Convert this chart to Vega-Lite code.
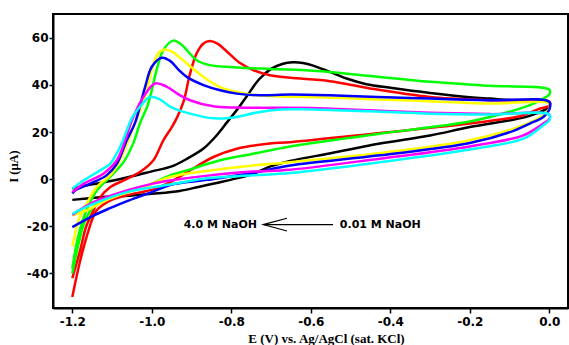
{
  "$schema": "https://vega.github.io/schema/vega-lite/v6.json",
  "width": 515,
  "height": 294,
  "autosize": {"type": "none"},
  "padding": {"left": 53, "top": 14, "right": 1, "bottom": 37},
  "background": "white",
  "config": {
    "view": {"stroke": "black", "strokeWidth": 2},
    "axis": {
      "grid": false,
      "domainColor": "black",
      "domainWidth": 2,
      "tickColor": "black",
      "tickWidth": 1.5,
      "labelColor": "black",
      "labelFont": "DejaVu Sans",
      "labelFontWeight": "bold",
      "labelFontSize": 12,
      "titleColor": "black",
      "titleFont": "Liberation Serif",
      "titleFontWeight": "bold"
    }
  },
  "encoding": {
    "x": {
      "field": "E",
      "type": "quantitative",
      "scale": {"domain": [-1.2486, 0.047], "nice": false, "zero": false},
      "axis": {
        "values": [-1.2, -1.0, -0.8, -0.6, -0.4, -0.2, 0],
        "labelExpr": "datum.value < -0.0001 ? '-' + format(-datum.value, '.1f') : format(abs(datum.value), '.1f')",
        "tickSize": 5,
        "labelPadding": 3,
        "title": "E (V) vs. Ag/AgCl (sat. KCl)",
        "titleFontSize": 13,
        "titleX": 273,
        "titleY": 30,
        "titleAlign": "center",
        "titleBaseline": "middle"
      }
    },
    "y": {
      "field": "I",
      "type": "quantitative",
      "scale": {"domain": [-54.7, 70.1], "nice": false, "zero": false},
      "axis": {
        "values": [-40, -20, 0, 20, 40, 60],
        "labelExpr": "datum.value < 0 ? '-' + format(-datum.value, 'd') : format(datum.value, 'd')",
        "tickSize": 4,
        "labelPadding": 1,
        "title": "I (µA)",
        "titleFontSize": 12.5,
        "titleX": -40,
        "titleY": 152,
        "titleAlign": "center",
        "titleBaseline": "middle"
      }
    }
  },
  "layer": [
    {
      "data": {
        "values": [
          {"s":"k","o":1,"E":-1.2,"I":-4},{"s":"k","o":2,"E":-1.15,"I":-2.2},{"s":"k","o":3,"E":-1.1,"I":-0.7},{"s":"k","o":4,"E":-1.05,"I":1.2},{"s":"k","o":5,"E":-1.0,"I":3.3},{"s":"k","o":6,"E":-0.95,"I":5.4},{"s":"k","o":7,"E":-0.91,"I":8.8},{"s":"k","o":8,"E":-0.87,"I":13},{"s":"k","o":9,"E":-0.84,"I":18},{"s":"k","o":10,"E":-0.81,"I":24.3},{"s":"k","o":11,"E":-0.786,"I":29.4},{"s":"k","o":12,"E":-0.761,"I":35.2},{"s":"k","o":13,"E":-0.73,"I":42.4},{"s":"k","o":14,"E":-0.7,"I":46.8},{"s":"k","o":15,"E":-0.672,"I":48.9},{"s":"k","o":16,"E":-0.645,"I":49.6},{"s":"k","o":17,"E":-0.62,"I":49.3},{"s":"k","o":18,"E":-0.594,"I":48.2},{"s":"k","o":19,"E":-0.552,"I":45.5},{"s":"k","o":20,"E":-0.51,"I":42.7},{"s":"k","o":21,"E":-0.46,"I":40.3},{"s":"k","o":22,"E":-0.4,"I":38.8},{"s":"k","o":23,"E":-0.3,"I":36.6},{"s":"k","o":24,"E":-0.2,"I":34.8},{"s":"k","o":25,"E":-0.149,"I":34.2},{"s":"k","o":26,"E":-0.09,"I":33.5},{"s":"k","o":27,"E":0,"I":32.8},
          {"s":"k","o":28,"E":0,"I":31},{"s":"k","o":29,"E":-0.01,"I":29.5},{"s":"k","o":30,"E":-0.03,"I":28},{"s":"k","o":31,"E":-0.065,"I":26.1},{"s":"k","o":32,"E":-0.2,"I":22.1},{"s":"k","o":33,"E":-0.3,"I":18.5},{"s":"k","o":34,"E":-0.426,"I":15.1},{"s":"k","o":35,"E":-0.55,"I":11},{"s":"k","o":36,"E":-0.652,"I":7.7},{"s":"k","o":37,"E":-0.7,"I":5.5},{"s":"k","o":38,"E":-0.745,"I":2.3},{"s":"k","o":39,"E":-0.8,"I":-0.2},{"s":"k","o":40,"E":-0.828,"I":-1.3},{"s":"k","o":41,"E":-0.88,"I":-3.2},{"s":"k","o":42,"E":-0.93,"I":-5},{"s":"k","o":43,"E":-1.0,"I":-6.2},{"s":"k","o":44,"E":-1.05,"I":-6.9},{"s":"k","o":45,"E":-1.105,"I":-7.4},{"s":"k","o":46,"E":-1.15,"I":-8},{"s":"k","o":47,"E":-1.2,"I":-8.8},

          {"s":"r","o":1,"E":-1.2,"I":-42},{"s":"r","o":2,"E":-1.18,"I":-30},{"s":"r","o":3,"E":-1.165,"I":-20},{"s":"r","o":4,"E":-1.147,"I":-13.3},{"s":"r","o":5,"E":-1.13,"I":-7.7},{"s":"r","o":6,"E":-1.105,"I":-3.4},{"s":"r","o":7,"E":-1.072,"I":-0.6},{"s":"r","o":8,"E":-1.03,"I":3},{"s":"r","o":9,"E":-0.996,"I":8},{"s":"r","o":10,"E":-0.971,"I":16.5},{"s":"r","o":11,"E":-0.95,"I":22},{"s":"r","o":12,"E":-0.937,"I":26},{"s":"r","o":13,"E":-0.92,"I":33},{"s":"r","o":14,"E":-0.905,"I":44},{"s":"r","o":15,"E":-0.887,"I":53.5},{"s":"r","o":16,"E":-0.87,"I":57.6},{"s":"r","o":17,"E":-0.854,"I":58.6},{"s":"r","o":18,"E":-0.835,"I":57.5},{"s":"r","o":19,"E":-0.81,"I":54},{"s":"r","o":20,"E":-0.78,"I":49.5},{"s":"r","o":21,"E":-0.745,"I":46.3},{"s":"r","o":22,"E":-0.703,"I":44.1},{"s":"r","o":23,"E":-0.652,"I":43},{"s":"r","o":24,"E":-0.552,"I":41.6},{"s":"r","o":25,"E":-0.451,"I":38.5},{"s":"r","o":26,"E":-0.3,"I":34.9},{"s":"r","o":27,"E":-0.149,"I":33.5},{"s":"r","o":28,"E":0,"I":32.8},
          {"s":"r","o":29,"E":0,"I":31.2},{"s":"r","o":30,"E":-0.023,"I":30},{"s":"r","o":31,"E":-0.065,"I":27.1},{"s":"r","o":32,"E":-0.09,"I":26.2},{"s":"r","o":33,"E":-0.2,"I":23.6},{"s":"r","o":34,"E":-0.426,"I":19.6},{"s":"r","o":35,"E":-0.652,"I":15.7},{"s":"r","o":36,"E":-0.703,"I":15.1},{"s":"r","o":37,"E":-0.786,"I":12.9},{"s":"r","o":38,"E":-0.845,"I":9.4},{"s":"r","o":39,"E":-0.904,"I":3.7},{"s":"r","o":40,"E":-0.954,"I":-1.3},{"s":"r","o":41,"E":-0.99,"I":-4},{"s":"r","o":42,"E":-1.063,"I":-6.9},{"s":"r","o":43,"E":-1.105,"I":-9.1},{"s":"r","o":44,"E":-1.139,"I":-13.3},{"s":"r","o":45,"E":-1.151,"I":-17.6},{"s":"r","o":46,"E":-1.17,"I":-28},{"s":"r","o":47,"E":-1.185,"I":-38},{"s":"r","o":48,"E":-1.2,"I":-50},

          {"s":"g","o":1,"E":-1.2,"I":-38},{"s":"g","o":2,"E":-1.19,"I":-28},{"s":"g","o":3,"E":-1.18,"I":-21},{"s":"g","o":4,"E":-1.164,"I":-13},{"s":"g","o":5,"E":-1.139,"I":-5},{"s":"g","o":6,"E":-1.105,"I":1},{"s":"g","o":7,"E":-1.072,"I":7},{"s":"g","o":8,"E":-1.046,"I":15.5},{"s":"g","o":9,"E":-1.03,"I":23.6},{"s":"g","o":10,"E":-1.009,"I":32.1},{"s":"g","o":11,"E":-0.988,"I":46.3},{"s":"g","o":12,"E":-0.971,"I":54.8},{"s":"g","o":13,"E":-0.946,"I":58.8},{"s":"g","o":14,"E":-0.929,"I":57.6},{"s":"g","o":15,"E":-0.912,"I":54.8},{"s":"g","o":16,"E":-0.887,"I":50.5},{"s":"g","o":17,"E":-0.854,"I":48.4},{"s":"g","o":18,"E":-0.786,"I":47.4},{"s":"g","o":19,"E":-0.703,"I":46.8},{"s":"g","o":20,"E":-0.652,"I":46.5},{"s":"g","o":21,"E":-0.552,"I":45.5},{"s":"g","o":22,"E":-0.451,"I":43.8},{"s":"g","o":23,"E":-0.3,"I":41.3},{"s":"g","o":24,"E":-0.149,"I":39.6},{"s":"g","o":25,"E":0,"I":38},
          {"s":"g","o":26,"E":0,"I":36},{"s":"g","o":27,"E":-0.015,"I":34.2},{"s":"g","o":28,"E":-0.049,"I":31.4},{"s":"g","o":29,"E":-0.132,"I":27.1},{"s":"g","o":30,"E":-0.2,"I":24.5},{"s":"g","o":31,"E":-0.3,"I":22},{"s":"g","o":32,"E":-0.426,"I":19.3},{"s":"g","o":33,"E":-0.652,"I":13.9},{"s":"g","o":34,"E":-0.745,"I":10.8},{"s":"g","o":35,"E":-0.828,"I":8},{"s":"g","o":36,"E":-0.912,"I":3.7},{"s":"g","o":37,"E":-0.954,"I":1.6},{"s":"g","o":38,"E":-1.021,"I":-3.4},{"s":"g","o":39,"E":-1.105,"I":-7.7},{"s":"g","o":40,"E":-1.147,"I":-11.9},{"s":"g","o":41,"E":-1.168,"I":-17.6},{"s":"g","o":42,"E":-1.185,"I":-28},{"s":"g","o":43,"E":-1.2,"I":-40},

          {"s":"y","o":1,"E":-1.2,"I":-28.5},{"s":"y","o":2,"E":-1.193,"I":-23.2},{"s":"y","o":3,"E":-1.185,"I":-17.6},{"s":"y","o":4,"E":-1.164,"I":-10.5},{"s":"y","o":5,"E":-1.139,"I":-3.4},{"s":"y","o":6,"E":-1.105,"I":1.6},{"s":"y","o":7,"E":-1.08,"I":8},{"s":"y","o":8,"E":-1.059,"I":16.5},{"s":"y","o":9,"E":-1.04,"I":24.5},{"s":"y","o":10,"E":-1.017,"I":34.9},{"s":"y","o":11,"E":-1.0,"I":46.3},{"s":"y","o":12,"E":-0.984,"I":53.4},{"s":"y","o":13,"E":-0.967,"I":55},{"s":"y","o":14,"E":-0.948,"I":54},{"s":"y","o":15,"E":-0.929,"I":51.5},{"s":"y","o":16,"E":-0.912,"I":49.1},{"s":"y","o":17,"E":-0.87,"I":43.4},{"s":"y","o":18,"E":-0.828,"I":39.1},{"s":"y","o":19,"E":-0.786,"I":37},{"s":"y","o":20,"E":-0.736,"I":35.6},{"s":"y","o":21,"E":-0.652,"I":35},{"s":"y","o":22,"E":-0.552,"I":34.6},{"s":"y","o":23,"E":-0.451,"I":33.9},{"s":"y","o":24,"E":-0.3,"I":33.1},{"s":"y","o":25,"E":-0.149,"I":32.1},{"s":"y","o":26,"E":0,"I":32.1},
          {"s":"y","o":27,"E":0,"I":30},{"s":"y","o":28,"E":-0.015,"I":27.1},{"s":"y","o":29,"E":-0.065,"I":22.9},{"s":"y","o":30,"E":-0.2,"I":16.5},{"s":"y","o":31,"E":-0.426,"I":11.1},{"s":"y","o":32,"E":-0.652,"I":7.2},{"s":"y","o":33,"E":-0.745,"I":5.8},{"s":"y","o":34,"E":-0.854,"I":3.7},{"s":"y","o":35,"E":-0.954,"I":0.9},{"s":"y","o":36,"E":-1.021,"I":-3.4},{"s":"y","o":37,"E":-1.105,"I":-8.3},{"s":"y","o":38,"E":-1.164,"I":-13.3},{"s":"y","o":39,"E":-1.2,"I":-15.4},

          {"s":"b","o":1,"E":-1.2,"I":-6},{"s":"b","o":2,"E":-1.19,"I":-4.5},{"s":"b","o":3,"E":-1.17,"I":-3},{"s":"b","o":4,"E":-1.147,"I":-1.3},{"s":"b","o":5,"E":-1.114,"I":1.6},{"s":"b","o":6,"E":-1.088,"I":6.5},{"s":"b","o":7,"E":-1.063,"I":16.5},{"s":"b","o":8,"E":-1.042,"I":24},{"s":"b","o":9,"E":-1.017,"I":39.1},{"s":"b","o":10,"E":-1.0,"I":47.7},{"s":"b","o":11,"E":-0.975,"I":51.5},{"s":"b","o":12,"E":-0.954,"I":50.2},{"s":"b","o":13,"E":-0.933,"I":46.5},{"s":"b","o":14,"E":-0.912,"I":43.4},{"s":"b","o":15,"E":-0.87,"I":39.9},{"s":"b","o":16,"E":-0.828,"I":37.7},{"s":"b","o":17,"E":-0.786,"I":36.3},{"s":"b","o":18,"E":-0.728,"I":35.6},{"s":"b","o":19,"E":-0.652,"I":35.9},{"s":"b","o":20,"E":-0.552,"I":35.6},{"s":"b","o":21,"E":-0.451,"I":35},{"s":"b","o":22,"E":-0.3,"I":34.2},{"s":"b","o":23,"E":-0.149,"I":33.5},{"s":"b","o":24,"E":0,"I":32.8},
          {"s":"b","o":25,"E":0,"I":29.5},{"s":"b","o":26,"E":-0.015,"I":26.4},{"s":"b","o":27,"E":-0.049,"I":23.6},{"s":"b","o":28,"E":-0.09,"I":20.5},{"s":"b","o":29,"E":-0.2,"I":15.3},{"s":"b","o":30,"E":-0.426,"I":10.1},{"s":"b","o":31,"E":-0.652,"I":5.8},{"s":"b","o":32,"E":-0.745,"I":2.7},{"s":"b","o":33,"E":-0.86,"I":-0.3},{"s":"b","o":34,"E":-0.954,"I":-2.5},{"s":"b","o":35,"E":-1.0,"I":-5.5},{"s":"b","o":36,"E":-1.059,"I":-9.1},{"s":"b","o":37,"E":-1.105,"I":-12.3},{"s":"b","o":38,"E":-1.147,"I":-15.5},{"s":"b","o":39,"E":-1.2,"I":-20.4},

          {"s":"m","o":1,"E":-1.2,"I":-5.5},{"s":"m","o":2,"E":-1.172,"I":-2},{"s":"m","o":3,"E":-1.122,"I":2.3},{"s":"m","o":4,"E":-1.088,"I":8},{"s":"m","o":5,"E":-1.067,"I":16.5},{"s":"m","o":6,"E":-1.05,"I":25},{"s":"m","o":7,"E":-1.021,"I":34.9},{"s":"m","o":8,"E":-0.992,"I":40.6},{"s":"m","o":9,"E":-0.963,"I":39.3},{"s":"m","o":10,"E":-0.933,"I":36},{"s":"m","o":11,"E":-0.904,"I":33.5},{"s":"m","o":12,"E":-0.845,"I":30.9},{"s":"m","o":13,"E":-0.786,"I":30.4},{"s":"m","o":14,"E":-0.7,"I":30.3},{"s":"m","o":15,"E":-0.6,"I":30.2},{"s":"m","o":16,"E":-0.45,"I":29.2},{"s":"m","o":17,"E":-0.3,"I":28.2},{"s":"m","o":18,"E":-0.15,"I":27.6},{"s":"m","o":19,"E":0,"I":27.4},
          {"s":"m","o":20,"E":0,"I":25.5},{"s":"m","o":21,"E":-0.015,"I":23.6},{"s":"m","o":22,"E":-0.065,"I":18.6},{"s":"m","o":23,"E":-0.2,"I":13.9},{"s":"m","o":24,"E":-0.426,"I":8.7},{"s":"m","o":25,"E":-0.652,"I":4},{"s":"m","o":26,"E":-0.745,"I":3.2},{"s":"m","o":27,"E":-0.854,"I":1.6},{"s":"m","o":28,"E":-0.954,"I":-0.6},{"s":"m","o":29,"E":-1.0,"I":-2},{"s":"m","o":30,"E":-1.063,"I":-4.8},{"s":"m","o":31,"E":-1.147,"I":-9.8},{"s":"m","o":32,"E":-1.2,"I":-15.2},

          {"s":"c","o":1,"E":-1.2,"I":-4},{"s":"c","o":2,"E":-1.172,"I":-0.6},{"s":"c","o":3,"E":-1.13,"I":3.7},{"s":"c","o":4,"E":-1.105,"I":6.5},{"s":"c","o":5,"E":-1.08,"I":13.6},{"s":"c","o":6,"E":-1.063,"I":20.7},{"s":"c","o":7,"E":-1.05,"I":26},{"s":"c","o":8,"E":-1.03,"I":30.6},{"s":"c","o":9,"E":-1.005,"I":34.9},{"s":"c","o":10,"E":-0.979,"I":33.8},{"s":"c","o":11,"E":-0.954,"I":30.8},{"s":"c","o":12,"E":-0.904,"I":27.8},{"s":"c","o":13,"E":-0.845,"I":25.8},{"s":"c","o":14,"E":-0.786,"I":26.4},{"s":"c","o":15,"E":-0.736,"I":28.3},{"s":"c","o":16,"E":-0.677,"I":29.6},{"s":"c","o":17,"E":-0.6,"I":29.6},{"s":"c","o":18,"E":-0.45,"I":28.8},{"s":"c","o":19,"E":-0.3,"I":27.8},{"s":"c","o":20,"E":-0.15,"I":27.4},{"s":"c","o":21,"E":0,"I":27.4},
          {"s":"c","o":22,"E":0,"I":25},{"s":"c","o":23,"E":-0.015,"I":22.9},{"s":"c","o":24,"E":-0.065,"I":17.2},{"s":"c","o":25,"E":-0.2,"I":12.6},{"s":"c","o":26,"E":-0.426,"I":7.2},{"s":"c","o":27,"E":-0.652,"I":2.6},{"s":"c","o":28,"E":-0.745,"I":1.6},{"s":"c","o":29,"E":-0.87,"I":0.2},{"s":"c","o":30,"E":-0.954,"I":-2.3},{"s":"c","o":31,"E":-1.0,"I":-3.5},{"s":"c","o":32,"E":-1.063,"I":-5.5},{"s":"c","o":33,"E":-1.147,"I":-10.5},{"s":"c","o":34,"E":-1.2,"I":-14.7}
        ]
      },
      "mark": {"type": "line", "interpolate": "catmull-rom", "strokeWidth": 2.5},
      "encoding": {
        "color": {
          "field": "s",
          "type": "nominal",
          "scale": {
            "domain": ["k", "r", "g", "y", "b", "m", "c"],
            "range": ["#000000", "#ff0000", "#00ff00", "#ffff00", "#0000ff", "#ff00ff", "#00ffff"]
          },
          "legend": null
        },
        "order": {"field": "o", "type": "quantitative"}
      }
    },
    {
      "data": {
        "values": [
          {"g": "shaft", "k": 1, "E": -0.544, "I": -19.3},
          {"g": "shaft", "k": 2, "E": -0.7197, "I": -19.3},
          {"g": "head", "k": 1, "E": -0.66, "I": -16.6},
          {"g": "head", "k": 2, "E": -0.7197, "I": -19.3},
          {"g": "head", "k": 3, "E": -0.66, "I": -22.0}
        ]
      },
      "mark": {"type": "line", "color": "black", "strokeWidth": 1.2},
      "encoding": {
        "detail": {"field": "g", "type": "nominal"},
        "order": {"field": "k", "type": "quantitative"}
      }
    },
    {
      "data": {"values": [{"E": -0.7355, "I": -19.3, "t": "4.0 M NaOH"}]},
      "mark": {"type": "text", "align": "right", "baseline": "middle", "font": "DejaVu Sans", "fontWeight": "bold", "fontSize": 11, "color": "black"},
      "encoding": {"text": {"field": "t"}}
    },
    {
      "data": {"values": [{"E": -0.527, "I": -19.3, "t": "0.01 M NaOH"}]},
      "mark": {"type": "text", "align": "left", "baseline": "middle", "font": "DejaVu Sans", "fontWeight": "bold", "fontSize": 11, "color": "black"},
      "encoding": {"text": {"field": "t"}}
    }
  ]
}
